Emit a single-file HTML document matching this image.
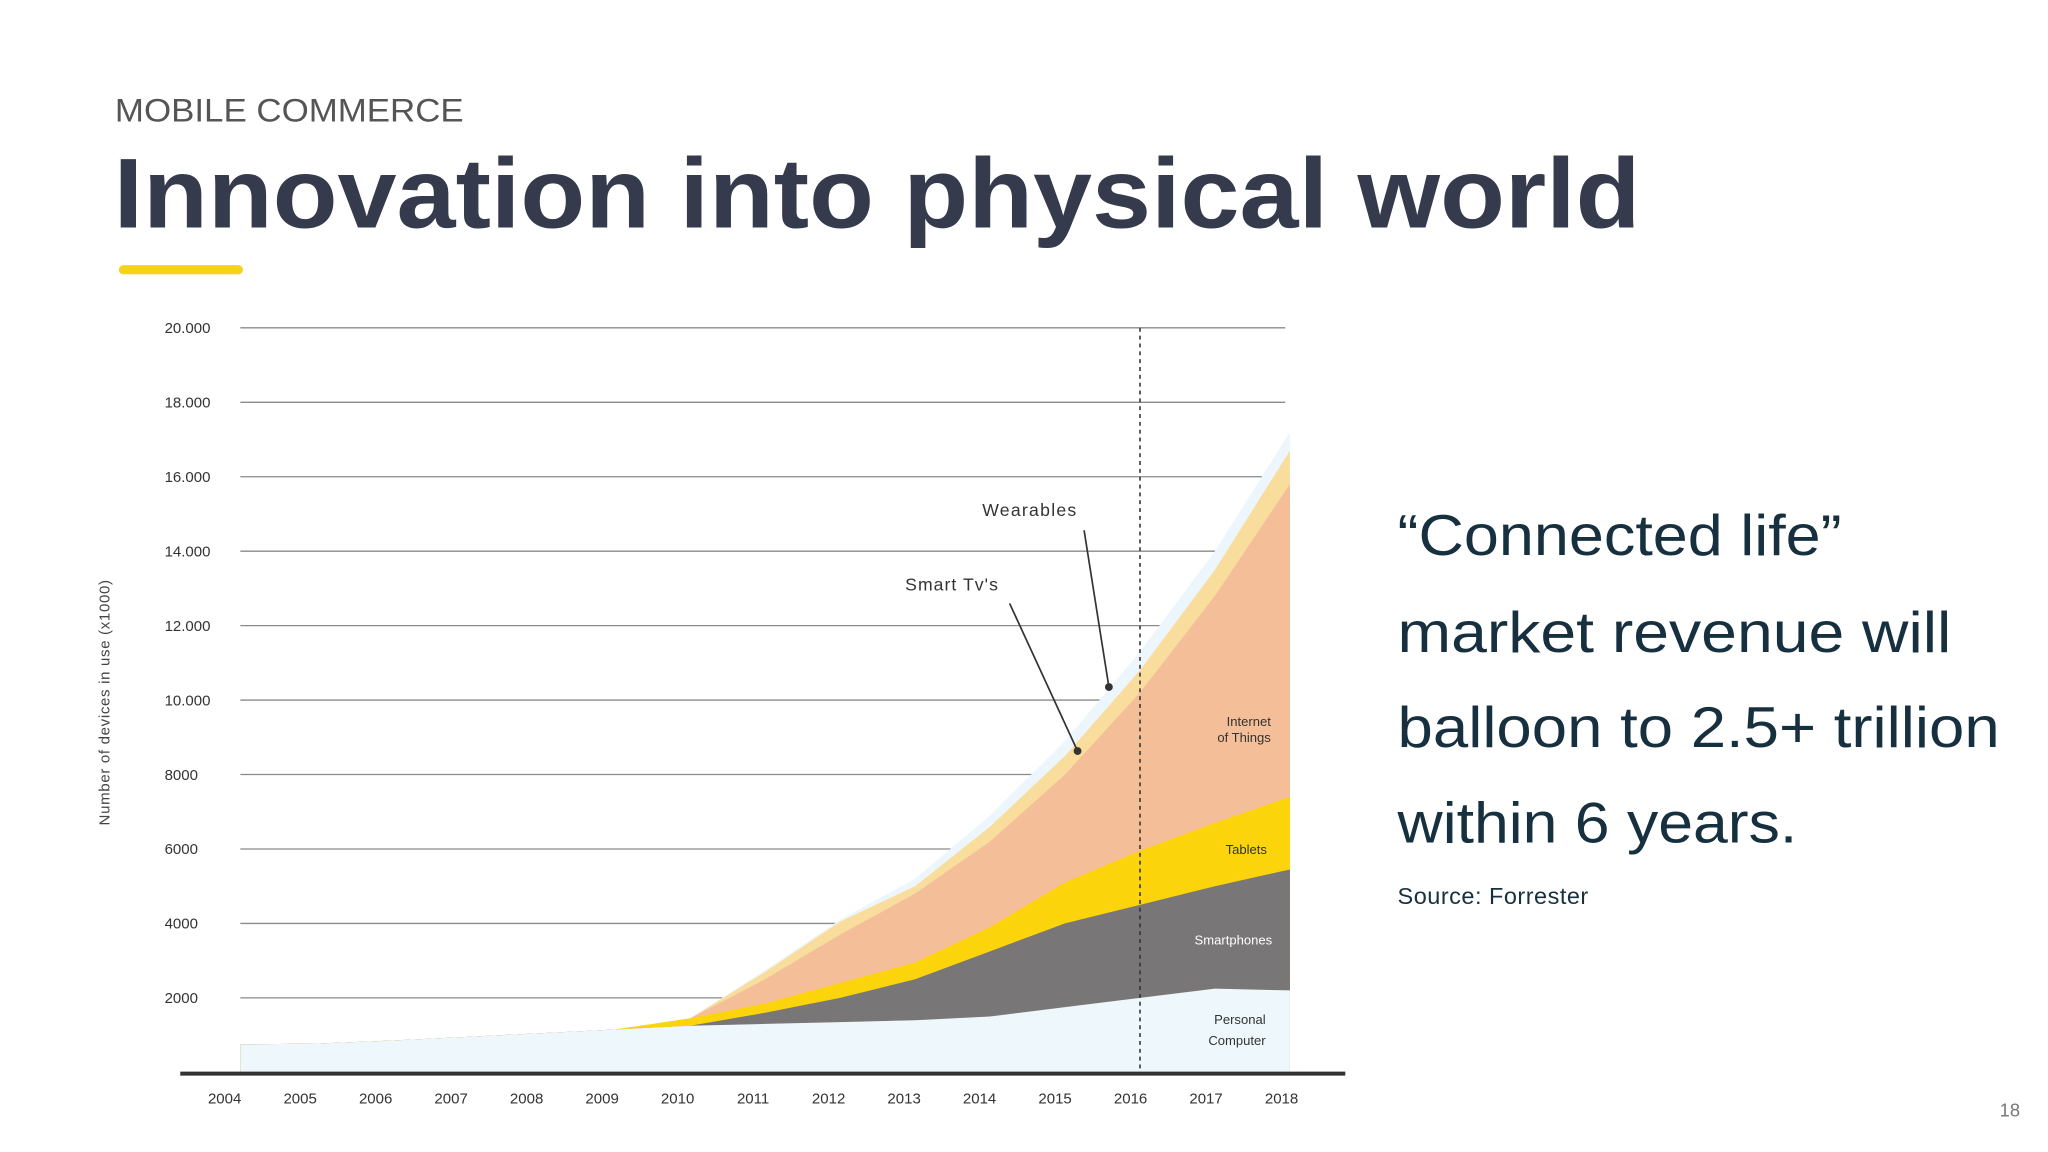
<!DOCTYPE html>
<html><head><meta charset="utf-8"><style>
html,body{margin:0;padding:0;background:#fff;}
svg{display:block;font-family:"Liberation Sans",sans-serif;}
</style></head><body>
<svg id="chart" width="2048" height="1152" viewBox="0 0 1568 882" xmlns="http://www.w3.org/2000/svg">
<rect width="1568" height="882" fill="#fff"/>
<text x="88" y="93" font-size="25" fill="#555" textLength="267" lengthAdjust="spacingAndGlyphs">MOBILE COMMERCE</text>
<text x="87" y="174" font-size="76" fill="#353a4c" font-weight="bold" textLength="1169" lengthAdjust="spacingAndGlyphs">Innovation into physical world</text>
<rect x="91" y="203" width="95" height="7" rx="3.5" fill="#f7d21a"/>
<g id="grid"></g>
<g id="areas"></g>
<g id="axes"></g>
<text transform="translate(84,538) rotate(-90)" text-anchor="middle" font-size="11.5" fill="#444" textLength="188">Number of devices in use (x1000)</text>
<g fill="#333" font-size="10">
<text x="973" y="556" text-anchor="end">Internet</text>
<text x="973" y="568" text-anchor="end">of Things</text>
<text x="970" y="654" text-anchor="end">Tablets</text>
<text x="974" y="723" text-anchor="end" fill="#fff">Smartphones</text>
<text x="969" y="784" text-anchor="end">Personal</text>
<text x="969" y="800" text-anchor="end">Computer</text>
</g>
<g>
<text x="752" y="395" font-size="13.5" fill="#333" textLength="72">Wearables</text>
<line x1="830" y1="406" x2="849" y2="526" stroke="#333" stroke-width="1.3"/>
<circle cx="849" cy="526" r="3" fill="#333"/>
<text x="693" y="452" font-size="13.5" fill="#333" textLength="71">Smart Tv's</text>
<line x1="773" y1="462" x2="825" y2="575" stroke="#333" stroke-width="1.3"/>
<circle cx="825" cy="575" r="3" fill="#333"/>
</g>
<g fill="#17303f" font-size="44">
<text x="1070" y="425" textLength="340" lengthAdjust="spacingAndGlyphs">“Connected life”</text>
<text x="1070" y="499" textLength="424" lengthAdjust="spacingAndGlyphs">market revenue will</text>
<text x="1070" y="572" textLength="461" lengthAdjust="spacingAndGlyphs">balloon to 2.5+ trillion</text>
<text x="1070" y="645" textLength="306" lengthAdjust="spacingAndGlyphs">within 6 years.</text>
</g>
<text x="1070" y="692" font-size="18" fill="#17303f" textLength="146">Source: Forrester</text>
<text x="1531" y="855" font-size="14" fill="#777">18</text>
</svg>
<script>
const years=[2004,2005,2006,2007,2008,2009,2010,2011,2012,2013,2014,2015,2016,2017,2018];
const yTicks=[2000,4000,6000,8000,10000,12000,14000,16000,18000,20000];
const yTickLabels=["2000","4000","6000","8000","10.000","12.000","14.000","16.000","18.000","20.000"];
const pc=[750,770,850,950,1050,1150,1250,1300,1350,1400,1500,1750,2000,2250,2200];
const smartphones=[0,0,0,0,0,0,0,300,650,1100,1750,2250,2500,2750,3250];
const tablets=[0,0,0,0,0,0,200,250,400,450,650,1100,1450,1700,1950];
const iot=[0,0,0,0,0,0,0,650,1300,1850,2300,2900,4250,6100,8400];
const smartTv=[0,0,0,0,0,0,0,200,350,200,400,500,600,700,900];
const wearables=[0,0,0,0,0,0,0,50,50,200,300,400,500,500,500];
const NS="http://www.w3.org/2000/svg";
const x=t=>184+(t-2004)*57.4;
const y=v=>821-v*0.0285;
function mk(tag,attrs,parent){const e=document.createElementNS(NS,tag);for(const k in attrs)e.setAttribute(k,attrs[k]);parent.appendChild(e);return e;}
const grid=document.getElementById('grid');
yTicks.forEach((v,i)=>{
  const l=mk('line',{x1:184,x2:984,y1:y(v),y2:y(v),stroke:'#8a8a8a','stroke-width':1},grid);
  
  
  const t=mk('text',{x:126,y:y(v)+4,'font-size':11.5,fill:'#333'},grid);
  t.textContent=yTickLabels[i];
  
  
});
const series=[
 {d:pc,c:'#eef7fc',n:'area-personal-computer'},
 {d:smartphones,c:'#787676',n:'area-smartphones'},
 {d:tablets,c:'#fcd40c',n:'area-tablets'},
 {d:iot,c:'#f3be98',n:'area-internet-of-things'},
 {d:smartTv,c:'#f9dd9c',n:'area-smart-tvs'},
 {d:wearables,c:'#edf6fc',n:'area-wearables'}];
const cum=years.map(()=>0);
const layers=series.map(s=>{const lo=cum.slice();s.d.forEach((v,i)=>cum[i]+=v);return {s,lo,hi:cum.slice()};});
const areas=document.getElementById('areas');
layers.slice().reverse().forEach(L=>{
  let p='M'+x(years[0])+','+y(0);
  years.forEach((t,i)=>{p+=' L'+x(t)+','+y(L.hi[i]);});
  p+=' L'+x(years[years.length-1])+','+y(0)+' Z';
  const e=mk('path',{d:p,fill:L.s.c},areas);
  
  
});
const axes=document.getElementById('axes');
const dl=mk('line',{x1:x(2016),x2:x(2016),y1:251,y2:821,stroke:'#333','stroke-width':1.2,'stroke-dasharray':'3,3'},axes);


const ax=mk('line',{x1:138,x2:1030,y1:822,y2:822,stroke:'#333','stroke-width':3},axes);


years.forEach(t=>{
  const e=mk('text',{x:172+(t-2004)*57.8,y:845,'font-size':11.5,fill:'#333','text-anchor':'middle'},axes);
  e.textContent=String(t);
  
  
});
</script>
</body></html>
